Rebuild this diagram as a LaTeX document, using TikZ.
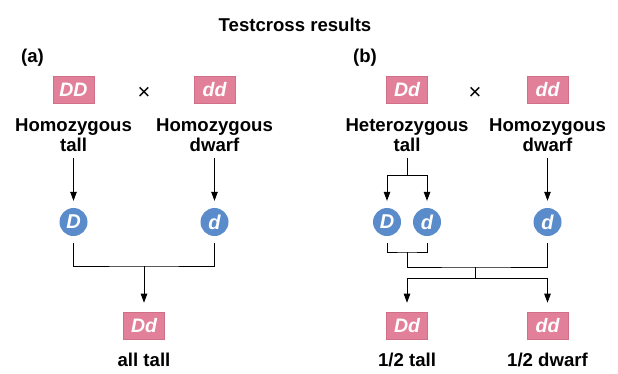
\documentclass[tikz,border=0pt]{standalone}
\usepackage{fontspec}
\setmainfont{Liberation Sans}
\usetikzlibrary{arrows.meta}
\definecolor{pinkbox}{HTML}{E27F99}
\definecolor{pinkedge}{HTML}{CF6F88}
\definecolor{bluecirc}{HTML}{5A8BCB}
\tikzset{
  txt/.style={font=\fontsize{18.6}{20}\selectfont\bfseries, inner sep=0pt, align=center, text=black},
  gbox/.style={draw=pinkedge, line width=0.6pt, fill=pinkbox, minimum width=41pt, minimum height=27pt, inner sep=0pt, text=white, font=\fontsize{19.5}{20}\selectfont\bfseries\itshape},
  allele/.style={circle, fill=bluecirc, minimum size=28pt, inner sep=0pt, text=white, font=\fontsize{20}{20}\selectfont\bfseries\itshape},
  ln/.style={line width=0.8pt, black},
  arr/.style={ln, -{Triangle[width=6.5pt,length=9pt]}},
  cross/.style={inner sep=0pt, font=\fontsize{22}{22}\selectfont},
}
\begin{document}
\begin{tikzpicture}[x=1pt,y=-1pt]
\useasboundingbox (0,0) rectangle (618,373);
% title and panel labels
\node[txt] (title) at (295,25) {Testcross results};
\node[txt] (la) at (32.5,58) {(a)};
\node[txt] (lb) at (365,58) {(b)};
% panel (a)
\node[gbox] (DDa) at (73.5,89.5) {DD};
\node[gbox] (dda) at (214.5,89.5) {dd};
\node[cross] (xa) at (144,93) {×};
\node[txt] (hta) at (73.5,135) {Homozygous\\tall};
\node[txt] (hda) at (214.5,135) {Homozygous\\dwarf};
\node[allele] (Da) at (73.5,222) {D};
\node[allele] (da) at (214.5,222) {d};
\node[gbox] (Dda) at (144,325.5) {Dd};
\node[txt] (alltall) at (144,360) {all tall};
\coordinate (ja) at (144,266);
\draw[arr, shorten >=7pt] ([yshift=-6pt]hta.south) -- (Da.north);
\draw[arr, shorten >=7pt] ([yshift=-6pt]hda.south) -- (da.north);
\draw[ln, shorten <=7pt, shorten >=7pt] (Da.south) |- (ja) -| (da.south);
\draw[arr, shorten >=9pt] (ja) -- (Dda.north);
% panel (b)
\node[gbox] (Ddb) at (407,89.5) {Dd};
\node[gbox] (ddb) at (547.5,89.5) {dd};
\node[cross] (xb) at (475,93) {×};
\node[txt] (htb) at (407,135) {Heterozygous\\tall};
\node[txt] (hdb) at (547.5,135) {Homozygous\\dwarf};
\node[allele] (Db) at (387,222) {D};
\node[allele] (db) at (427,222) {d};
\node[allele] (d2b) at (547.5,222) {d};
\node[gbox] (Ddr) at (407,325.5) {Dd};
\node[gbox] (ddr) at (547.5,325.5) {dd};
\node[txt] (half1) at (407,360) {1/2 tall};
\node[txt] (half2) at (547.5,360) {1/2 dwarf};
\coordinate (bt) at (407,175);
\coordinate (j1) at (407,252);
\coordinate (j2) at (475,267);
\coordinate (j3) at (475,278);
\draw[ln] ([yshift=-6pt]htb.south) -- (bt);
\draw[arr, shorten >=7pt] (bt) -| (Db.north);
\draw[arr, shorten >=7pt] (bt) -| (db.north);
\draw[arr, shorten >=7pt] ([yshift=-6pt]hdb.south) -- (d2b.north);
\draw[ln, shorten <=7pt, shorten >=7pt] (Db.south) |- (j1) -| (db.south);
\draw[ln, shorten >=7pt] (j1) |- (j2) -| (d2b.south);
\draw[ln] (j2) -- (j3);
\draw[arr, shorten >=9pt] (j3) -| (Ddr.north);
\draw[arr, shorten >=9pt] (j3) -| (ddr.north);
\end{tikzpicture}
\end{document}
